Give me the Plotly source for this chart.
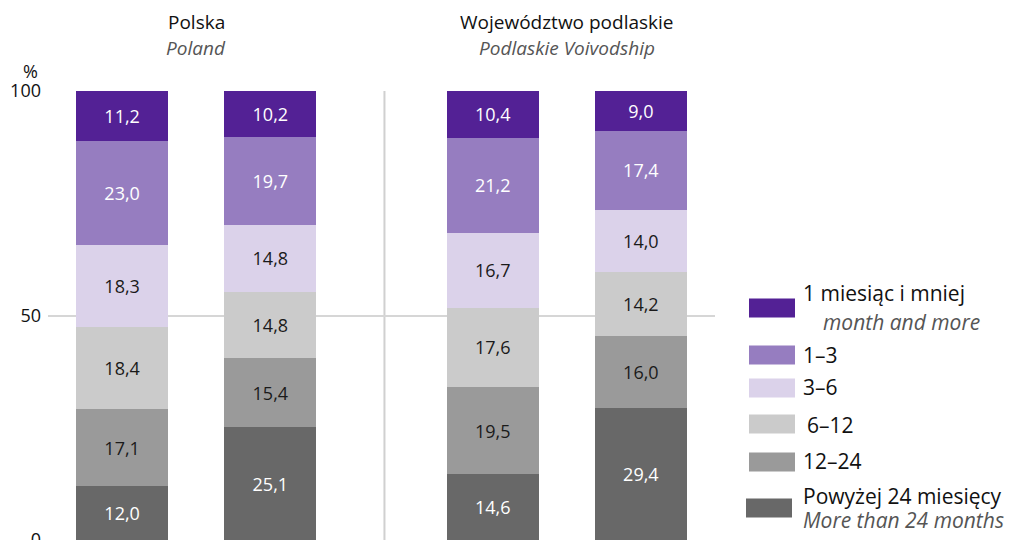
import plotly.graph_objects as go

# ---- data ----
groups = ["Polska", "Województwo podlaskie"]
groups_en = ["Poland", "Podlaskie Voivodship"]
bars_per_group = 2

series_names = ["Powyżej 24 miesięcy", "12–24", "6–12", "3–6", "1–3", "1 miesiąc i mniej"]
series_en = ["More than 24 months", None, None, None, None, "month and more"]

gt24 = [12.0, 25.1, 14.6, 29.4]
m12_24 = [17.1, 15.4, 19.5, 16.0]
m6_12 = [18.4, 14.8, 17.6, 14.2]
m3_6 = [18.3, 14.8, 16.7, 14.0]
m1_3 = [23.0, 19.7, 21.2, 17.4]
m1 = [11.2, 10.2, 10.4, 9.0]
series_values = [gt24, m12_24, m6_12, m3_6, m1_3, m1]

y_ticks = [0, 50, 100]
y_tick_labels = ["0", "50", "100"]

# ---- styles ----
colors = ["#686868", "#9a9a9a", "#cbcbcb", "#dbd2ea", "#967dc0", "#532195"]
text_colors = ["#ffffff", "#1a1a1a", "#1a1a1a", "#1a1a1a", "#ffffff", "#ffffff"]
FONT = "Open Sans"
group_step = 2.5
bar_width = 0.62

# bar positions derived from group structure
xpos = [g * group_step + i for g in range(len(groups)) for i in range(bars_per_group)]

fig = go.Figure()
for name, vals, col, tcol in zip(series_names, series_values, colors, text_colors):
    fig.add_trace(go.Bar(
        x=xpos, y=vals, name=name, width=bar_width,
        marker=dict(color=col, line=dict(width=0)),
        texttemplate="%{y:.1f}", textposition="inside", insidetextanchor="middle",
        textangle=0, constraintext="none",
        textfont=dict(family=FONT, size=18, color=tcol),
        showlegend=False, hoverinfo="skip",
    ))

# page body has an 8px margin; figure placed at (8, 8) in the window
OFF = 8
W, H = 1014 - OFF, 540 - OFF
L, R, T, B = 40, 299, 83, 0
pw, ph = W - L - R, H - T - B

def px_x(p):  # window pixel -> paper x
    return (p - OFF - L) / pw

def px_y(p):  # window pixel -> paper y
    return (H - B - (p - OFF)) / ph

annotations = []
shapes = []

# group titles
for g, (t1, t2) in enumerate(zip(groups, groups_en)):
    cx = sum(xpos[g * bars_per_group:(g + 1) * bars_per_group]) / bars_per_group
    annotations.append(dict(x=cx, xref="x", y=px_y(22), yref="paper", text=t1,
                            showarrow=False, font=dict(family=FONT, size=19, color="#111111"),
                            xanchor="center", yanchor="middle"))
    annotations.append(dict(x=cx, xref="x", y=px_y(48), yref="paper", text="<i>" + t2 + "</i>",
                            showarrow=False, font=dict(family=FONT, size=19, color="#555555"),
                            xanchor="center", yanchor="middle"))

# % label
annotations.append(dict(x=px_x(30), xref="paper", y=px_y(71), yref="paper", text="%",
                        showarrow=False, font=dict(family=FONT, size=18, color="#111111"),
                        xanchor="center", yanchor="middle"))

# separator between groups
sep_x = (xpos[bars_per_group - 1] + xpos[bars_per_group]) / 2 + 0.02
shapes.append(dict(type="line", xref="x", yref="y", x0=sep_x, x1=sep_x, y0=0, y1=100,
                   line=dict(color="#d0d0d0", width=2), layer="below"))

# legend (top to bottom)
legend_rows = [  # (series index, swatch center y px, text y px, subtitle y px)
    (5, 308, 293, 322),
    (4, 355, 355, None),
    (3, 388, 387, None),
    (2, 424, 425, None),
    (1, 462, 461, None),
    (0, 508, 496, 520),
]
sub_x = {5: 821, 0: 801}
for idx, sy, ty, suby in legend_rows:
    x0 = 749 if idx != 0 else 746
    shapes.append(dict(type="rect", xref="paper", yref="paper",
                       x0=px_x(x0), x1=px_x(x0 + 46), y0=px_y(sy + 9.5), y1=px_y(sy - 9.5),
                       fillcolor=colors[idx], line=dict(width=0)))
    tx = 805 if series_names[idx] == "6–12" else 801
    annotations.append(dict(x=px_x(tx), xref="paper", y=px_y(ty), yref="paper",
                            text=series_names[idx], showarrow=False,
                            font=dict(family=FONT, size=21, color="#111111"),
                            xanchor="left", yanchor="middle"))
    if suby is not None:
        annotations.append(dict(x=px_x(sub_x[idx]), xref="paper", y=px_y(suby), yref="paper",
                                text="<i>" + series_en[idx] + "</i>", showarrow=False,
                                font=dict(family=FONT, size=21, color="#555555"),
                                xanchor="left", yanchor="middle"))

fig.update_layout(
    template="none",
    width=W, height=H,
    margin=dict(l=L, r=R, t=T, b=B, pad=0),
    barmode="stack",
    separators=", ",
    paper_bgcolor="white", plot_bgcolor="white",
    font=dict(family=FONT, size=18, color="#111111"),
    showlegend=False,
    annotations=annotations,
    shapes=shapes,
    xaxis=dict(range=[-0.5, 4.0], showticklabels=False, showgrid=False, zeroline=False,
               showline=False, ticks="", automargin=False, fixedrange=True),
    yaxis=dict(range=[0, 100], tickvals=y_ticks, ticktext=y_tick_labels, showgrid=True,
               gridcolor="#d6d6d6", gridwidth=2, zeroline=False, showline=False, ticks="",
               tickfont=dict(family=FONT, size=18, color="#111111"),
               ticklabeloverflow="allow",
               automargin=False, fixedrange=True, ticklabelstandoff=6),
)

fig.write_html("out.html")
